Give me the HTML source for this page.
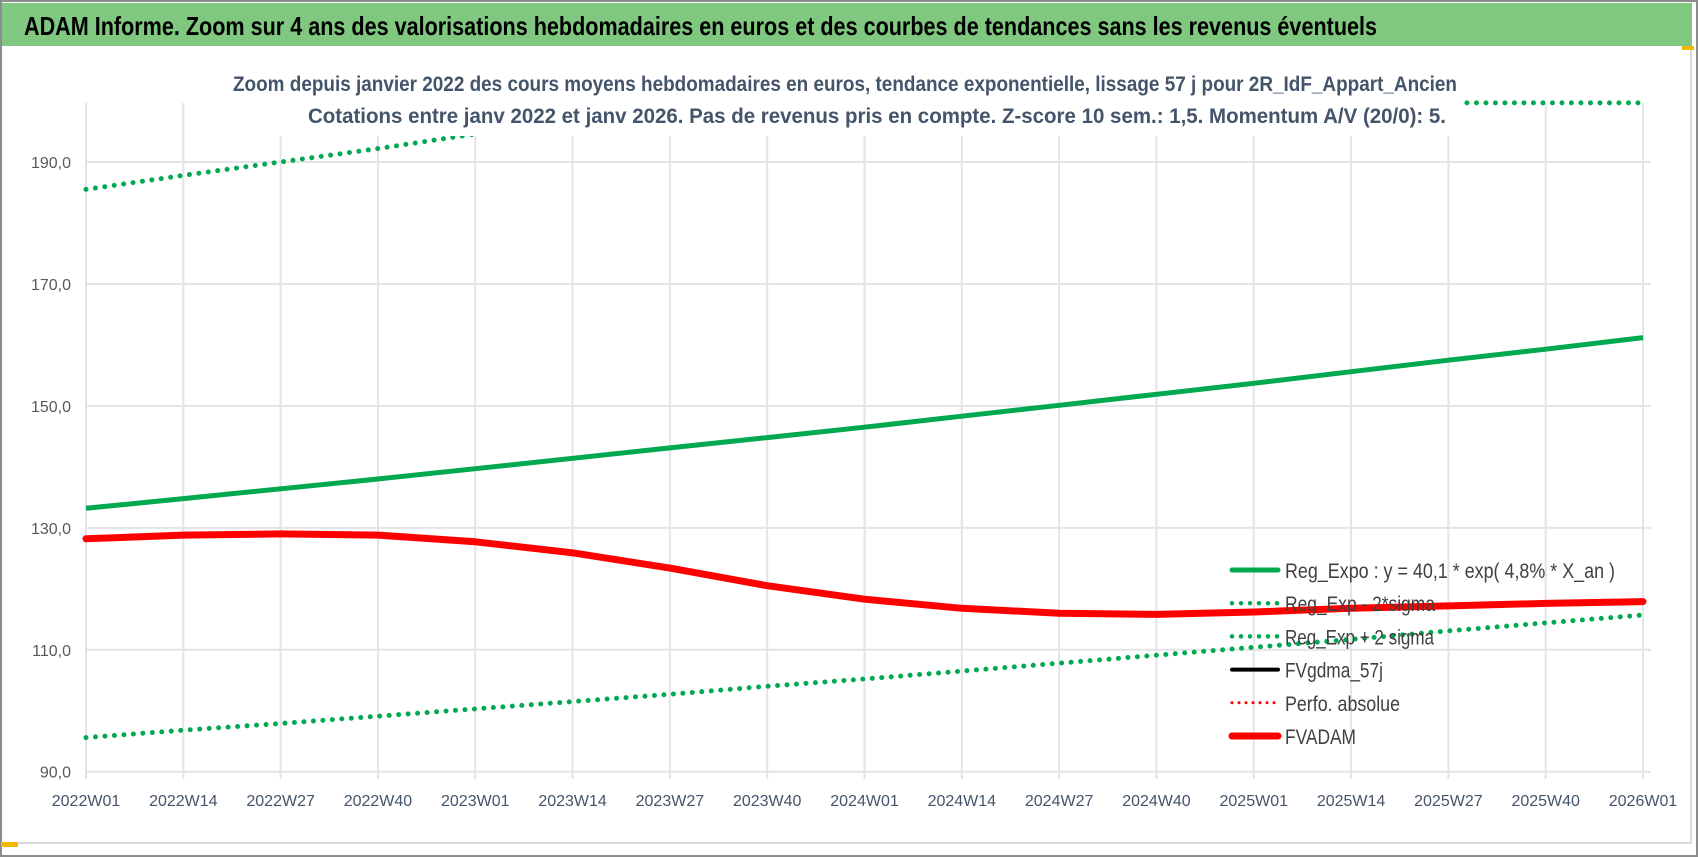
<!DOCTYPE html>
<html><head><meta charset="utf-8"><style>
html,body{margin:0;padding:0;background:#fff;}
svg{display:block;}
text{font-family:"Liberation Sans",sans-serif;}
</style></head><body>
<svg id="chart" width="1698" height="857" viewBox="0 0 1698 857" xmlns="http://www.w3.org/2000/svg">
  <rect x="0" y="0" width="1698" height="857" fill="#fff"/>
  <rect x="1" y="1" width="1696" height="855" fill="none" stroke="#8c8c8c" stroke-width="2"/>
  <rect x="2" y="3" width="1690" height="43" fill="#80c87f"/>
  <text x="24" y="35" font-size="26" font-weight="bold" fill="#000" textLength="1353" lengthAdjust="spacingAndGlyphs">ADAM Informe. Zoom sur 4 ans des valorisations hebdomadaires en euros et des courbes de tendances sans les revenus éventuels</text>
  <line x1="1691" y1="48" x2="1691" y2="843" stroke="#d9d9d9" stroke-width="2"/>
  <line x1="2" y1="843" x2="1691" y2="843" stroke="#d9d9d9" stroke-width="2"/>
  <rect x="1" y="842" width="17" height="5" fill="#f5b800"/>
  <rect x="1682" y="46" width="12" height="4" fill="#f5b800"/>
  <g id="grid"></g>
  <g id="axes"></g>
  <g id="series"></g>
  <rect x="226" y="56" width="1236" height="80" fill="#fff"/>
  <text x="233" y="91" font-size="21" font-weight="bold" fill="#44546a" textLength="1224" lengthAdjust="spacingAndGlyphs">Zoom depuis janvier 2022 des cours moyens hebdomadaires en euros, tendance exponentielle, lissage 57 j pour 2R_IdF_Appart_Ancien</text>
  <text x="308" y="123" font-size="21" font-weight="bold" fill="#44546a" textLength="1138" lengthAdjust="spacingAndGlyphs">Cotations entre janv 2022 et janv 2026. Pas de revenus pris en compte. Z-score 10 sem.: 1,5. Momentum A/V (20/0): 5.</text>
  <g id="legend"></g>
</svg>
<script>
const categories = ["2022W01","2022W14","2022W27","2022W40","2023W01","2023W14","2023W27","2023W40","2024W01","2024W14","2024W27","2024W40","2025W01","2025W14","2025W27","2025W40","2026W01"];
const yTicks = [90,110,130,150,170,190];
const regExpo = [133.2,134.8,136.4,138.0,139.7,141.4,143.1,144.8,146.5,148.3,150.1,151.9,153.7,155.6,157.5,159.3,161.2];
const regLow = [95.6,96.8,97.9,99.1,100.3,101.5,102.7,104.0,105.2,106.5,107.8,109.1,110.4,111.7,113.1,114.4,115.7];
const regHigh = [185.5,187.8,190.0,192.2,194.6,197.0,199.3,201.7,204.1,206.6,209.1,211.6,214.1,216.7,219.4,221.9,224.5];
const fvgdma = [128.2,128.8,129.0,128.9,127.6,125.9,123.4,120.6,118.4,116.8,116.0,115.8,116.2,116.8,117.2,117.6,117.9];
const fvadam = [128.2,128.8,129.0,128.8,127.7,125.9,123.4,120.5,118.3,116.8,116.0,115.8,116.2,116.8,117.2,117.6,117.9];
const legendLabels = ["Reg_Expo : y = 40,1 * exp( 4,8% *  X_an )","Reg_Exp - 2*sigma","Reg_Exp + 2 sigma","FVgdma_57j","Perfo. absolue","FVADAM"];

const NS="http://www.w3.org/2000/svg";
const X0=86, X1=1643, Y0=771.7, PXU=6.097, YMIN=90, YMAX=199.7;
function xScale(i){return X0+(X1-X0)*i/(categories.length-1);}
function yScale(v){const c=Math.min(Math.max(v,YMIN),YMAX);return Y0-(c-YMIN)*PXU;}
function mk(tag,attrs,parent){const e=document.createElementNS(NS,tag);for(const k in attrs)e.setAttribute(k,attrs[k]);parent.appendChild(e);return e;}

const grid=document.getElementById('grid'), axes=document.getElementById('axes'), series=document.getElementById('series'), legend=document.getElementById('legend');
yTicks.forEach(v=>{
  const l=mk('line',{x1:X0,x2:X1+8,y1:yScale(v),y2:yScale(v),stroke:'#e3e3e8','stroke-width':2},grid);
  
  
  const t=mk('text',{x:71,y:yScale(v)+6,'font-size':16,fill:'#595959','text-anchor':'end'},axes);
  t.textContent=v.toFixed(1).replace('.',',');
  
  
});
categories.forEach((c,i)=>{
  const l=mk('line',{x1:xScale(i),x2:xScale(i),y1:103,y2:779,stroke:'#e3e3e8','stroke-width':2},grid);
  
  
  const t=mk('text',{x:xScale(i),y:806,'font-size':16,fill:'#44546a','text-anchor':'middle'},axes);
  t.textContent=c;
  
  
});
function pts(arr){return arr.map((v,i)=>xScale(i).toFixed(1)+','+yScale(v).toFixed(1)).join(' ');}
const sLow=mk('polyline',{points:pts(regLow),fill:'none',stroke:'#00a84f','stroke-width':5,'stroke-linecap':'round','stroke-dasharray':'0 9.5'},series);


const sHigh=mk('polyline',{points:pts(regHigh),fill:'none',stroke:'#00a84f','stroke-width':5,'stroke-linecap':'round','stroke-dasharray':'0 9.5'},series);


const sReg=mk('polyline',{points:pts(regExpo),fill:'none',stroke:'#00a84f','stroke-width':5,'stroke-linejoin':'round'},series);


const sGd=mk('polyline',{points:pts(fvgdma),fill:'none',stroke:'#000','stroke-width':4,'stroke-linejoin':'round'},series);


const sAd=mk('polyline',{points:pts(fvadam),fill:'none',stroke:'#ff0000','stroke-width':7,'stroke-linejoin':'round','stroke-linecap':'round'},series);



const legStyles=[
 {stroke:'#00a84f',w:5,dash:null},
 {stroke:'#00a84f',w:4.5,dash:'0 9'},
 {stroke:'#00a84f',w:4.5,dash:'0 9'},
 {stroke:'#000',w:4,dash:null},
 {stroke:'#ff0000',w:3,dash:'0 7'},
 {stroke:'#ff0000',w:7,dash:null}];
const legendWidths=[330,150,149,98,115,71];
legendLabels.forEach((lab,i)=>{
  const y=570+i*33.2;
  const st=legStyles[i];
  const a={x1:1232,x2:1278,y1:y,y2:y,stroke:st.stroke,'stroke-width':st.w,'stroke-linecap':'round'};
  if(st.dash)a['stroke-dasharray']=st.dash;
  const l=mk('line',a,legend);
  
  
  const t=mk('text',{x:1285,y:y+8,'font-size':21,fill:'#404040',textLength:legendWidths[i],lengthAdjust:'spacingAndGlyphs'},legend);
  t.textContent=lab;
  
  
});
</script>
</body></html>
